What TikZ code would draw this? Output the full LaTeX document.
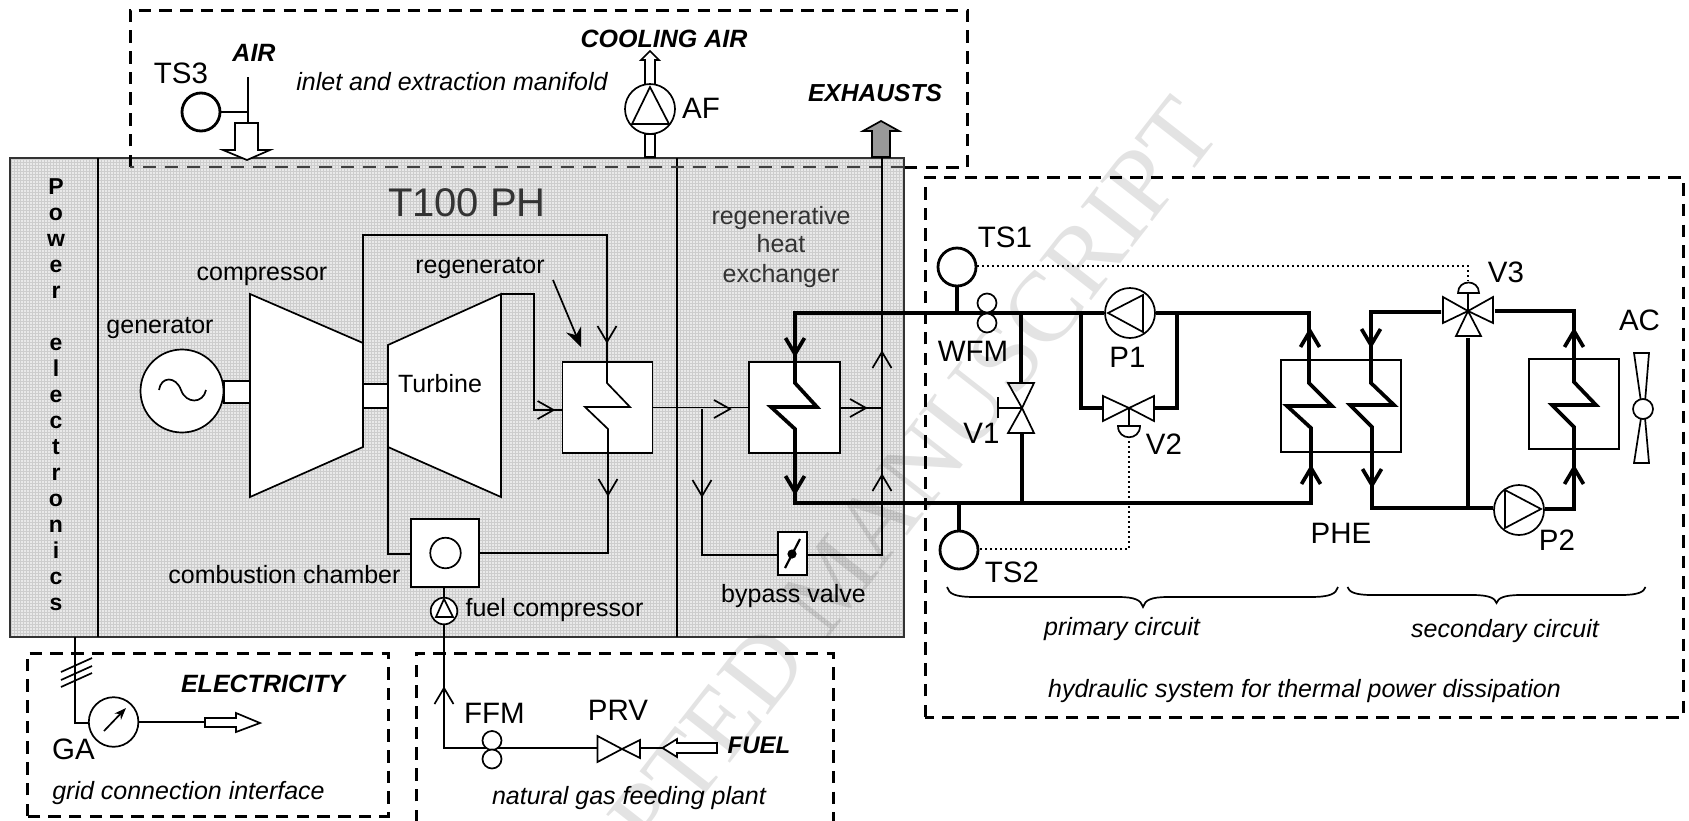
\documentclass[tikz,border=0pt]{standalone}
\usepackage{fontspec}
\usetikzlibrary{arrows.meta}
\setmainfont{Liberation Sans}
\newfontfamily\wmfont{Liberation Serif}
\definecolor{hatchbg}{HTML}{E9E9E9}
\definecolor{hatchln}{HTML}{CDCDCD}
\definecolor{dimtxt}{HTML}{333333}
\newcommand{\chevD}[3][]{\draw[#1] (#2-9.5,#3-16) -- (#2,#3) -- (#2+9.5,#3-16);}
\newcommand{\chevU}[3][]{\draw[#1] (#2-9.5,#3+16) -- (#2,#3) -- (#2+9.5,#3+16);}
\newcommand{\chevR}[3][]{\draw[#1] (#2-16,#3-9) -- (#2,#3) -- (#2-16,#3+9);}
\tikzset{
  ln/.style={line width=1.7pt,line join=miter},
  pipe/.style={line width=3.7pt,line join=miter},
  dashbox/.style={line width=3pt,dash pattern=on 12.5pt off 8.2pt},
  dots/.style={line width=2.2pt,dash pattern=on 1.8pt off 3.2pt},
  circ/.style={circle,draw,line width=1.7pt,fill=white,inner sep=0pt},
  sens/.style={circle,draw,line width=2.8pt,fill=white,inner sep=0pt,minimum size=38pt},
  boxn/.style={rectangle,draw,line width=1.7pt,fill=white,inner sep=0pt},
  tag/.style={inner sep=0pt,anchor=base,font=\fontsize{29.5}{32}\selectfont},
  lab/.style={inner sep=0pt,anchor=base,font=\fontsize{25}{28}\selectfont},
  ital/.style={inner sep=0pt,anchor=base,font=\fontsize{25}{28}\selectfont\itshape},
  bold/.style={inner sep=0pt,anchor=base,font=\fontsize{25}{28}\selectfont\bfseries\itshape},
  pel/.style={inner sep=0pt,anchor=base,font=\fontsize{23}{26}\selectfont\bfseries},
}
\begin{document}
\begin{tikzpicture}[x=1pt,y=-1pt]
\useasboundingbox (0,0) rectangle (1689,820);
\clip (0,0) rectangle (1689,820);
\fill[white] (0,0) rectangle (1689,820);
% shaded body
\fill[hatchbg] (10,158) rectangle (904,637);
\foreach \xx in {11,14,...,903} {\draw[hatchln,line width=.9pt] (\xx,158) -- (\xx,637);}
\foreach \yy in {159,162,...,636} {\draw[hatchln,line width=.9pt] (10,\yy) -- (904,\yy);}
% watermark
\node[font=\fontsize{100}{105}\selectfont\wmfont,rotate=52,text=black,text opacity=.11,inner sep=0pt] (wmark) at (832,580) {ACCEPTED MANUSCRIPT};
% outer frames
\draw[line width=2pt,draw=black!80] (10,158) rectangle (904,637);
\coordinate (bodyA) at (98,158); \coordinate (bodyB) at (98,637);
\coordinate (bodyC) at (677,158); \coordinate (bodyD) at (677,637);
\draw[ln,line width=2pt] (bodyA) -- (bodyB);
\draw[ln,line width=2pt] (bodyC) -- (bodyD);
% dashed frames
\draw[dashbox] (130,167) -- (130,10) -- (967,10) -- (967,167) -- (904,167);
\draw[line width=1.8pt,draw=black!75,dash pattern=on 13pt off 9pt] (904,167) -- (130,167);
\draw[dashbox] (27,816) -- (27,653) -- (388,653) -- (388,816) -- cycle;
\draw[dashbox] (416,822) -- (416,653) -- (833,653) -- (833,822);
\draw[dashbox] (925,717) -- (925,177) -- (1683,177) -- (1683,717) -- cycle;
% Power electronics letters
\foreach \ch [count=\k from 0] in {P,o,w,e,r,{},e,l,e,c,t,r,o,n,i,c,s}
  {\node[pel] (pe\k) at (56,{194+26*\k}) {\ch};}
% titles
\node[inner sep=0pt,anchor=base,font=\fontsize{40}{44}\selectfont,text=dimtxt] (title) at (467,216) {T100 PH};
\node[lab,text=dimtxt] (rheA) at (781,224) {regenerative};
\node[lab,text=dimtxt] (rheB) at (781,252) {heat};
\node[lab,text=dimtxt] (rheC) at (781,282) {exchanger};
\node[tag] (lTS3) at (181,83) {TS3};
\node[bold] (lAIR) at (254,61) {AIR};
\node[ital] (lInlet) at (452,90) {inlet and extraction manifold};
\node[bold] (lCool) at (664,47) {COOLING AIR};
\node[tag] (lAF) at (701,118) {AF};
\node[bold,font=\fontsize{24.6}{28}\selectfont\bfseries\itshape] (lExh) at (875,101) {EXHAUSTS};
\node[lab] (lComp) at (262,280) {compressor};
\node[lab] (lGen) at (160,333) {generator};
\node[lab] (lReg) at (480,273) {regenerator};
\node[lab] (lCC) at (284.5,583) {combustion chamber};
\node[lab] (lFC) at (554.5,616) {fuel compressor};
\node[lab] (lBV) at (793.5,602) {bypass valve};
% Air inlet
\node[sens] (ts3) at (201,112) {};
\coordinate (airT) at (248,77); \coordinate (airB) at (248,123);
\draw[ln] (airT) -- (airB);
\draw[ln] (ts3) -- (248,112);
\draw[ln,fill=white] (235,123) -- (258,123) -- (258,150) -- (270,150) -- (247,160) -- (223,150) -- (235,150) -- cycle;
% AF
\draw[ln,fill=white] (645,157) -- (645,134) -- (655,134) -- (655,157) -- cycle;
\draw[ln,fill=white] (645,85) -- (645,60) -- (641,60) -- (650,51) -- (659,60) -- (655,60) -- (655,85) -- cycle;
\node[circ,minimum size=50pt] (af) at (650,109) {};
\draw[ln] (650,87) -- (632,124) -- (669,124) -- cycle;
% Exhaust
\draw[ln,fill=black!40] (872,157) -- (872,131) -- (863,131) -- (881,121) -- (899,131) -- (890,131) -- (890,157) -- cycle;
% Generator, compressor, turbine
\draw[ln,fill=white] (224,381) rectangle (250,403);
\node[circ,minimum size=83pt] (gen) at (182,391) {};
\draw[ln] (159,390) .. controls (161,376) and (176,376) .. (181,390) .. controls (186,404) and (203,404) .. (206,390);
\draw[ln,fill=white] (363,384) rectangle (388,408);
\draw[ln,fill=white] (250,294) -- (363,343) -- (363,447) -- (250,497) -- cycle;
\draw[ln,fill=white] (388,345) -- (501,294) -- (501,497) -- (388,447) -- cycle;
\node[lab] (lTurb) at (440,392) {Turbine};
% Boxes
\node[boxn,minimum width=90pt,minimum height=91pt] (regen) at (607.5,407.5) {};
\node[boxn,minimum width=91pt,minimum height=91pt] (rhe) at (794.5,407.5) {};
\node[boxn,minimum width=67.5pt,minimum height=68pt] (cc) at (445,553) {};
\node[circ,minimum size=30.5pt] (flame) at (445.5,553) {};
\node[boxn,minimum width=29pt,minimum height=43pt] (bv) at (792.5,553.5) {};
\fill (792,554) circle[radius=4.6pt];
\draw[line width=2.2pt] (785,568) -- (800,539);
% Regenerator internal connectors
\coordinate (cmpT) at (363,343); \coordinate (turbT) at (501,294);
\coordinate (turbL) at (388,447);
\draw[ln] (cmpT) -- (363,235) -- (607,235) -- (607,383) -- (630,407) -- (585,407) -- (608,429) -- (608,553) -- (cc.east |- 608,553);
\chevD[ln]{607}{342}
\chevD[ln]{608}{495}
\draw[ln] (turbT) -- (534,294) -- (534,410) -- (regen.west |- 534,410);
\chevR[ln]{553.6}{410}
\draw[ln] (turbL) -- (388,554) -- (cc.west |- 388,554);
\draw[line width=1.7pt,-{Stealth[length=19pt,width=16pt]}] (553,280) -- (581,347);
% fuel line
\node[circ,minimum size=26.6pt] (fc) at (444,611) {};
\draw[ln] (444,599) -- (436,617) -- (453,617) -- cycle;
\draw[ln] (444,587) -- (fc.north);
\coordinate (fcorner) at (444,748);
\coordinate (prvL) at (597.5,748);
\draw[ln] (fc.south) -- (fcorner) -- (prvL);
\chevU[ln]{444}{688}
\node[circ,minimum size=19pt] (ffmA) at (492,740.5) {};
\node[circ,minimum size=19pt] (ffmB) at (492,759) {};
\draw[ln] (597.5,736) -- (622,749) -- (597.5,762) -- cycle;
\draw[ln] (640,740) -- (622,749) -- (640,758) -- cycle;
\coordinate (fuelTip) at (662.5,748);
\draw[ln] (640,748) -- (fuelTip);
\draw[ln,fill=white] (fuelTip) -- (677,739) -- (677,743) -- (717,743) -- (717,753) -- (677,753) -- (677,757) -- cycle;
\node[tag] (lFFM) at (494.5,723) {FFM};
\node[tag] (lPRV) at (618,720) {PRV};
\node[bold,font=\fontsize{24}{28}\selectfont\bfseries\itshape] (lFuel) at (759,753) {FUEL};
\node[ital] (lGas) at (629,804) {natural gas feeding plant};
% grid interface
\node[circ,minimum size=49.6pt] (ga) at (113.6,722) {};
\coordinate (gridT) at (75,637);
\draw[ln] (gridT) -- (75,723) -- (ga.west |- 75,723);
\draw[ln] (61,672) -- (92,658);
\draw[ln] (61,680) -- (92,666);
\draw[ln] (61,687) -- (92,673);
\draw[line width=1.7pt,-{Stealth[length=12pt,width=9pt]}] (104,731) -- (126,708);
\coordinate (elecTail) at (205,722);
\draw[ln] (ga.east) -- (elecTail);
\draw[ln,fill=white] (205,718) -- (236,718) -- (236,713) -- (260,723) -- (236,732) -- (236,727) -- (205,727) -- cycle;
\node[tag] (lGA) at (73.5,759) {GA};
\node[bold] (lElec) at (263,692) {ELECTRICITY};
\node[ital] (lGrid) at (188.5,799) {grid connection interface};
% gas paths through the heat exchanger
\draw[ln] (regen.east) -- (rhe.west);
\chevR[ln]{730}{409}
\coordinate (bpJ) at (702,409);
\draw[ln] (bpJ) -- (702,555) -- (bv.west |- 702,555);
\chevD[ln]{702}{496}
\draw[ln] (bv.east |- 702,555) -- (882,555) -- (882,157);
\chevU[ln]{882}{352}
\chevU[ln]{882}{475}
\draw[ln] (rhe.east |- 0,408) -- (882,408);
\chevR[ln]{866}{408}
% PHE and AC boxes
\node[boxn,line width=1.3pt,minimum width=120pt,minimum height=92pt] (phe) at (1341,406) {};
\node[boxn,line width=1.3pt,minimum width=90pt,minimum height=90pt] (ach) at (1574,404) {};
% Primary piping
\node[sens] (ts1) at (957,267) {};
\node[sens] (ts2) at (959,550) {};
\draw[pipe] (ts1.south) -- (957,313);
\draw[pipe] (959,503) -- (ts2.north);
\node[circ,minimum size=50pt] (p1) at (1130,313) {};
\draw[pipe,line join=miter] (p1.west) -- (795,313) -- (795,383) -- (817,407) -- (771,407) -- (795,429) -- (795,503) -- (1311,503) -- (1311,428) -- (1287,406) -- (1332,406) -- (1309,383) -- (1309,313) -- (p1.east);
\chevD[pipe]{795}{354}
\chevD[pipe]{795}{492}
\chevU[pipe]{1310}{331}
\chevU[pipe]{1311}{468}
\node[circ,minimum size=19pt] (wfmA) at (987,303) {};
\node[circ,minimum size=19pt] (wfmB) at (987,323) {};
\draw[ln] (1108,313) -- (1143,295) -- (1143,332) -- cycle;
% V1
\coordinate (v1c) at (1022,408);
\draw[pipe] (1021,313) -- (1021,383);
\draw[pipe] (1022,434) -- (1022,503);
\draw[ln] (1008,383) -- (1034,383) -- (v1c) -- cycle;
\draw[ln] (1008,433) -- (1034,433) -- (v1c) -- cycle;
\draw[ln] (v1c) -- (998,408);
\draw[ln] (998,397) -- (998,418);
% V2
\coordinate (v2c) at (1129,408);
\draw[pipe] (1081,313) -- (1081,408) -- (1103,408);
\draw[pipe] (1154,408) -- (1177,408) -- (1177,313);
\draw[ln] (1103,396) -- (1103,421) -- (v2c) -- cycle;
\draw[ln] (1154,396) -- (1154,421) -- (v2c) -- cycle;
\draw[ln] (v2c) -- (1129,426);
\draw[ln] (1118,426) .. controls (1118,441) and (1140,441) .. (1140,426) -- cycle;
\draw[dots] (1129,441) -- (1129,549) -- (ts2.east |- 0,549);
\draw[dots] (ts1.east |- 0,266) -- (1468,266) -- (1468,281);
% V3 and secondary
\coordinate (v3c) at (1468,311);
\draw[ln] (1443,297) -- (1443,323) -- (v3c) -- cycle;
\draw[ln] (1493,297) -- (1493,323) -- (v3c) -- cycle;
\draw[ln] (1456,336) -- (1481,336) -- (v3c) -- cycle;
\draw[ln] (v3c) -- (1468,293);
\draw[ln] (1458,293) .. controls (1458,279) and (1479,279) .. (1479,293) -- cycle;
\node[circ,minimum size=50pt] (p2) at (1519,510) {};
\draw[pipe] (1441,312) -- (1371,312) -- (1371,383) -- (1394,405) -- (1350,405) -- (1372,427) -- (1372,508) -- (p2.west |- 0,508);
\draw[pipe] (p2.east |- 0,509) -- (1574,509) -- (1574,427) -- (1552,405) -- (1596,405) -- (1574,382) -- (1574,311) -- (1495,311);
\draw[pipe] (1468,338) -- (1468,508);
\chevD[pipe]{1371}{345}
\chevD[pipe]{1372}{485}
\chevU[pipe]{1574}{331}
\chevU[pipe]{1574}{468}
\draw[ln] (1505,490) -- (1541,509) -- (1505,528) -- cycle;
% fan
\draw[ln,fill=white] (1634,353) -- (1649,353) -- (1645,402) -- (1641,402) -- cycle;
\draw[ln,fill=white] (1634,463) -- (1649,463) -- (1645,418) -- (1641,418) -- cycle;
\node[circ,minimum width=19pt,minimum height=20pt] (fan) at (1643,409) {};
% braces
\draw[line width=1.7pt] (947,587) .. controls (949,594) and (955,597) .. (975,597) -- (1118,597) .. controls (1135,597) and (1141,600) .. (1143,607) .. controls (1145,600) and (1151,597) .. (1168,597) -- (1310,597) .. controls (1330,597) and (1336,594) .. (1338,587);
\draw[line width=1.7pt] (1347.5,587) .. controls (1349,592) and (1355,595) .. (1372,595) -- (1472,595) .. controls (1489,595) and (1495,598) .. (1496.5,603) .. controls (1498,598) and (1504,595) .. (1521,595) -- (1621,595) .. controls (1638,595) and (1644,592) .. (1645.5,587);
% labels right
\node[tag] (lTS1) at (1005,247) {TS1};
\node[tag] (lTS2) at (1012,582) {TS2};
\node[tag] (lWFM) at (973,361) {WFM};
\node[tag] (lV1) at (981.5,443) {V1};
\node[tag] (lV2) at (1164,454) {V2};
\node[tag] (lP1) at (1127.5,367) {P1};
\node[tag] (lV3) at (1506,282) {V3};
\node[tag] (lP2) at (1557,550) {P2};
\node[tag] (lPHE) at (1341,543) {PHE};
\node[tag] (lAC) at (1639.5,330) {AC};
\node[ital] (lPrim) at (1122,635) {primary circuit};
\node[ital] (lSec) at (1505,637) {secondary circuit};
\node[ital] (lHyd) at (1304.5,697) {hydraulic system for thermal power dissipation};
\end{tikzpicture}
\end{document}
